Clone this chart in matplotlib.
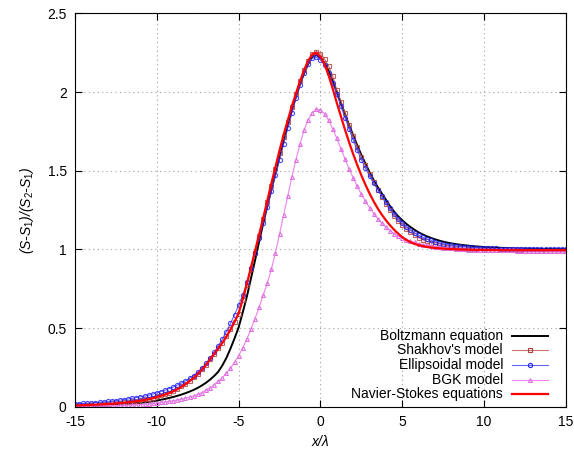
import numpy as np
import matplotlib
matplotlib.use('Agg')
import matplotlib.pyplot as plt
from matplotlib.lines import Line2D
from matplotlib.ticker import FormatStrFormatter

plt.rcParams['font.family'] = ['Liberation Sans', 'DejaVu Sans']
plt.rcParams['font.size'] = 10
plt.rcParams['axes.unicode_minus'] = False
plt.rcParams['mathtext.fontset'] = 'custom'
plt.rcParams['mathtext.it'] = 'Liberation Sans:italic'
plt.rcParams['mathtext.rm'] = 'Liberation Sans'
plt.rcParams['mathtext.default'] = 'it'

# x/lambda, step 0.25 from -15 to 15 (each row below = 2 units)
x = np.linspace(-15, 15, 121)

# Boltzmann equation
boltzmann = [
    0.005, 0.0055, 0.006, 0.0066, 0.0072, 0.008, 0.0088, 0.0097,
    0.0107, 0.0118, 0.013, 0.0145, 0.0162, 0.018, 0.020, 0.0222,
    0.0246, 0.0274, 0.0307, 0.0345, 0.039, 0.044, 0.0495, 0.0555,
    0.062, 0.069, 0.077, 0.086, 0.096, 0.107, 0.12, 0.135,
    0.152, 0.172, 0.195, 0.222, 0.262, 0.31, 0.37, 0.435,
    0.505, 0.60, 0.70, 0.815, 0.93, 1.05, 1.165, 1.275,
    1.38, 1.485, 1.59, 1.69, 1.79, 1.885, 1.97, 2.05,
    2.12, 2.18, 2.225, 2.235, 2.22, 2.185, 2.135, 2.07,
    2.0, 1.93, 1.86, 1.79, 1.725, 1.66, 1.60, 1.545,
    1.49, 1.44, 1.395, 1.355, 1.315, 1.275, 1.24, 1.21,
    1.185, 1.162, 1.142, 1.124, 1.108, 1.095, 1.083, 1.073,
    1.064, 1.056, 1.049, 1.043, 1.038, 1.034, 1.03, 1.027,
    1.024, 1.021, 1.019, 1.017, 1.015, 1.013, 1.012, 1.011,
    1.01, 1.009, 1.008, 1.007, 1.006, 1.006, 1.005, 1.005,
    1.004, 1.004, 1.003, 1.003, 1.003, 1.002, 1.002, 1.002,
    1.002]

# Shakhov's model
shakhov = [
    0.009, 0.0099, 0.0109, 0.012, 0.0132, 0.0145, 0.016, 0.0176,
    0.0194, 0.0214, 0.0236, 0.026, 0.0287, 0.0316, 0.0348, 0.0383,
    0.0422, 0.0465, 0.0513, 0.0575, 0.066, 0.073, 0.081, 0.09,
    0.101, 0.114, 0.129, 0.146, 0.165, 0.186, 0.21, 0.238,
    0.268, 0.302, 0.337, 0.372, 0.408, 0.448, 0.492, 0.54,
    0.592, 0.68, 0.775, 0.875, 0.98, 1.085, 1.19, 1.3,
    1.405, 1.51, 1.615, 1.715, 1.81, 1.905, 1.99, 2.07,
    2.14, 2.2, 2.24, 2.257, 2.245, 2.21, 2.165, 2.1,
    2.01, 1.94, 1.865, 1.79, 1.72, 1.65, 1.59, 1.535,
    1.48, 1.43, 1.38, 1.335, 1.29, 1.25, 1.215, 1.183,
    1.155, 1.13, 1.108, 1.09, 1.075, 1.062, 1.051, 1.042,
    1.034, 1.028, 1.022, 1.018, 1.014, 1.011, 1.008, 1.006,
    1.004, 1.002, 1.0, 0.999, 0.998, 0.997, 0.996, 0.995,
    0.995, 0.994, 0.994, 0.993, 0.993, 0.993, 0.992, 0.992,
    0.992, 0.991, 0.991, 0.991, 0.991, 0.99, 0.99, 0.99,
    0.99]

# Ellipsoidal model
ellipsoidal = [
    0.018, 0.0194, 0.0209, 0.0226, 0.0245, 0.0264, 0.0285, 0.0308,
    0.0333, 0.036, 0.0389, 0.042, 0.0455, 0.0493, 0.0534, 0.0578,
    0.0626, 0.0678, 0.0735, 0.0805, 0.088, 0.096, 0.105, 0.115,
    0.125, 0.137, 0.15, 0.164, 0.18, 0.198, 0.22, 0.246,
    0.275, 0.308, 0.345, 0.386, 0.43, 0.478, 0.53, 0.585,
    0.645, 0.71, 0.79, 0.88, 0.975, 1.072, 1.17, 1.27,
    1.37, 1.47, 1.57, 1.67, 1.77, 1.865, 1.96, 2.045,
    2.12, 2.18, 2.215, 2.222, 2.205, 2.17, 2.12, 2.055,
    1.985, 1.91, 1.835, 1.765, 1.695, 1.63, 1.57, 1.515,
    1.465, 1.42, 1.38, 1.34, 1.3, 1.26, 1.225, 1.195,
    1.168, 1.144, 1.123, 1.105, 1.09, 1.077, 1.066, 1.057,
    1.049, 1.042, 1.036, 1.031, 1.027, 1.023, 1.02, 1.017,
    1.015, 1.013, 1.011, 1.01, 1.009, 1.008, 1.007, 1.006,
    1.005, 1.005, 1.004, 1.004, 1.003, 1.003, 1.003, 1.002,
    1.002, 1.002, 1.002, 1.001, 1.001, 1.001, 1.001, 1.001,
    1.0]

# BGK model
bgk = [
    0.004, 0.0042, 0.0045, 0.0047, 0.005, 0.0053, 0.0056, 0.006,
    0.0065, 0.007, 0.0076, 0.0083, 0.009, 0.0099, 0.011, 0.0124,
    0.014, 0.016, 0.0182, 0.0208, 0.024, 0.027, 0.0305, 0.034,
    0.038, 0.0425, 0.048, 0.054, 0.061, 0.069, 0.078, 0.089,
    0.105, 0.121, 0.14, 0.161, 0.185, 0.213, 0.245, 0.283,
    0.325, 0.375, 0.43, 0.493, 0.56, 0.632, 0.71, 0.785,
    0.875, 0.98, 1.1, 1.22, 1.34, 1.46, 1.57, 1.67,
    1.76, 1.825, 1.87, 1.89, 1.885, 1.86, 1.82, 1.765,
    1.705, 1.64, 1.575, 1.51, 1.455, 1.4, 1.35, 1.305,
    1.265, 1.228, 1.195, 1.167, 1.142, 1.12, 1.1, 1.085,
    1.072, 1.061, 1.052, 1.044, 1.037, 1.031, 1.026, 1.021,
    1.017, 1.014, 1.011, 1.008, 1.006, 1.004, 1.002, 1.0,
    0.999, 0.998, 0.997, 0.996, 0.996, 0.995, 0.995, 0.994,
    0.994, 0.993, 0.993, 0.993, 0.992, 0.992, 0.992, 0.992,
    0.991, 0.991, 0.991, 0.991, 0.99, 0.99, 0.99, 0.99,
    0.99]

# Navier-Stokes equations
navier_stokes = [
    0.008, 0.0088, 0.0097, 0.0107, 0.0118, 0.013, 0.0143, 0.0157,
    0.0172, 0.019, 0.021, 0.0232, 0.0256, 0.0283, 0.0313, 0.0346,
    0.0383, 0.0425, 0.0472, 0.0535, 0.062, 0.069, 0.077, 0.086,
    0.098, 0.111, 0.126, 0.143, 0.162, 0.183, 0.207, 0.235,
    0.265, 0.30, 0.335, 0.37, 0.405, 0.445, 0.49, 0.54,
    0.594, 0.685, 0.78, 0.885, 0.99, 1.095, 1.2, 1.31,
    1.42, 1.525, 1.63, 1.73, 1.82, 1.91, 1.99, 2.07,
    2.14, 2.2, 2.24, 2.25, 2.225, 2.175, 2.105, 2.02,
    1.93, 1.845, 1.76, 1.68, 1.605, 1.535, 1.47, 1.41,
    1.355, 1.305, 1.26, 1.22, 1.185, 1.153, 1.125, 1.1,
    1.078, 1.06, 1.046, 1.035, 1.027, 1.021, 1.016, 1.012,
    1.009, 1.007, 1.005, 1.003, 1.002, 1.001, 1.0, 0.999,
    0.998, 0.998, 0.997, 0.997, 0.996, 0.996, 0.996, 0.996,
    0.995, 0.995, 0.995, 0.995, 0.995, 0.995, 0.995, 0.995,
    0.995, 0.995, 0.995, 0.995, 0.995, 0.995, 0.995, 0.995,
    0.995]

for s in (boltzmann, shakhov, ellipsoidal, bgk, navier_stokes):
    assert len(s) == len(x)

fig = plt.figure(figsize=(5.74, 4.5), dpi=100)
ax = fig.add_axes([0.1307, 0.0962, 0.8553, 0.874])

styles = [
    ('Boltzmann equation', boltzmann, dict(color='black', lw=1.4)),
    ("Shakhov's model", shakhov, dict(color='#c0504d', lw=0.8, marker='s', ms=2.8,
                                      mfc='none', mec='#b0403d', mew=0.8, alpha=0.8)),
    ('Ellipsoidal model', ellipsoidal, dict(color='#4040ff', lw=0.8, marker='o', ms=3.0,
                                            mfc='none', mec='#2020f0', mew=0.8, alpha=0.8)),
    ('BGK model', bgk, dict(color='#ee82ee', lw=0.8, marker='^', ms=2.8,
                            mfc='none', mec='#e070e0', mew=0.8)),
    ('Navier-Stokes equations', navier_stokes, dict(color='#ff0000', lw=1.6)),
]

for name, vals, st in styles:
    ax.plot(x, vals, **st)

ax.set_xlim(-15, 15)
ax.set_ylim(0, 2.5)
ax.set_xticks(np.arange(-15, 16, 5))
ax.set_yticks(np.arange(0, 2.51, 0.5))
ax.yaxis.set_major_formatter(FormatStrFormatter('%g'))
ax.tick_params(direction='in', length=5, width=0.8, top=True, right=True, labelsize=10, pad=6)
ax.grid(True, color='#a0a0a0', linestyle=(0, (1, 3)), linewidth=0.8)
for sp in ax.spines.values():
    sp.set_linewidth(0.8)

ax.set_xlabel('x/λ', fontstyle='italic', fontsize=10, labelpad=4)
ax.set_ylabel('(S-S$_1$)/(S$_2$-S$_1$)', fontstyle='italic', fontsize=10, labelpad=8)

# gnuplot style key: right-aligned text, sample to the right
key_y = [0.18, 0.143, 0.106, 0.069, 0.032]
for (name, vals, st), ky in zip(styles, key_y):
    ax.text(0.872, ky, name, transform=ax.transAxes, ha='right', va='center', fontsize=10)
    line_st = {k: v for k, v in st.items() if k not in ('marker', 'ms', 'mfc', 'mec', 'mew')}
    ax.add_line(Line2D([0.89, 0.963], [ky, ky], transform=ax.transAxes, **line_st))
    if 'marker' in st:
        ax.add_line(Line2D([0.9265], [ky], transform=ax.transAxes, linestyle='none',
                           marker=st['marker'], ms=st['ms'], mfc=st['mfc'], mec=st['mec'],
                           mew=st['mew']))

fig.savefig('out.png', dpi=100)
